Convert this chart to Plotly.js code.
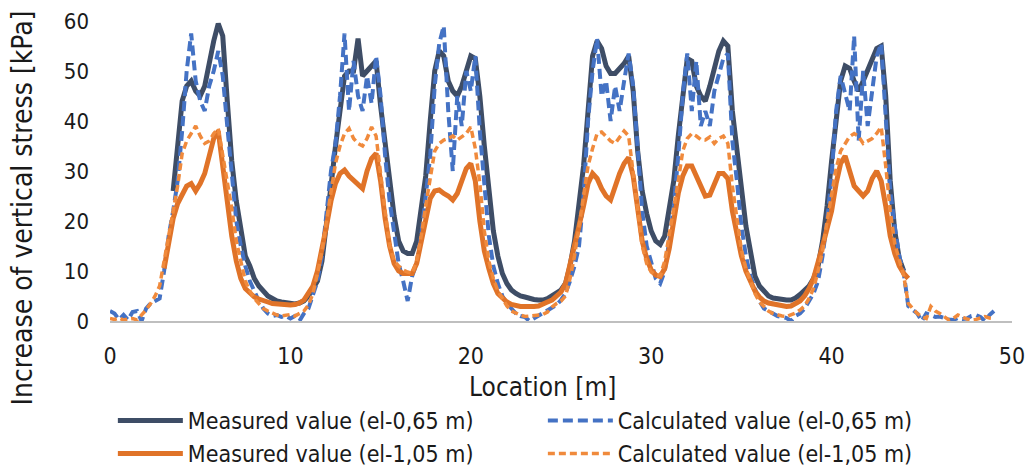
<!DOCTYPE html>
<html>
<head>
<meta charset="utf-8">
<script src="https://cdn.plot.ly/plotly-3.0.1.min.js"></script>
<style>
  html, body { margin: 0; padding: 0; background: #ffffff; }
  #chart { width: 1026px; height: 470px; }
</style>
</head>
<body>
<div id="chart"></div>
<script>
// Location along the profile [m]
const location_m = [
  0,0.25,0.5,0.75, 1,1.25,1.5,1.75, 2,2.25,2.5,2.75, 3,3.25,3.5,3.75, 4,4.25,4.5,4.75,
  5,5.25,5.5,5.75, 6,6.25,6.5,6.75, 7,7.25,7.5,7.75, 8,8.25,8.5,8.75, 9,9.25,9.5,9.75,
  10,10.25,10.5,10.75, 11,11.25,11.5,11.75, 12,12.25,12.5,12.75, 13,13.25,13.5,13.75, 14,14.25,14.5,14.75,
  15,15.25,15.5,15.75, 16,16.25,16.5,16.75, 17,17.25,17.5,17.75, 18,18.25,18.5,18.75, 19,19.25,19.5,19.75,
  20,20.25,20.5,20.75, 21,21.25,21.5,21.75, 22,22.25,22.5,22.75, 23,23.25,23.5,23.75, 24,24.25,24.5,24.75,
  25,25.25,25.5,25.75, 26,26.25,26.5,26.75, 27,27.25,27.5,27.75, 28,28.25,28.5,28.75, 29,29.25,29.5,29.75,
  30,30.25,30.5,30.75, 31,31.25,31.5,31.75, 32,32.25,32.5,32.75, 33,33.25,33.5,33.75, 34,34.25,34.5,34.75,
  35,35.25,35.5,35.75, 36,36.25,36.5,36.75, 37,37.25,37.5,37.75, 38,38.25,38.5,38.75, 39,39.25,39.5,39.75,
  40,40.25,40.5,40.75, 41,41.25,41.5,41.75, 42,42.25,42.5,42.75, 43,43.25,43.5,43.75, 44,44.25,44.5,44.75,
  45,45.25,45.5,45.75, 46,46.25,46.5,46.75, 47,47.25,47.5,47.75, 48,48.25,48.5,48.75, 49
];

// Measured value (el-0,65 m) [kPa]
const measured065 = [
  null,null,null,null, null,null,null,null, null,null,null,null, null,null,26,36, 44,47,48,46,
  45,47,52,56, 59.5,57,44,32, 24,18,13,11, 8.5,7,6,5, 4.5,4,3.8,3.6,
  3.5,3.4,3.6,4, 5,6.5,8,12, 19,27,35,42, 49,50,50,56.5, 49,50,51,52,
  43,35,28,21, 16,14,13.5,13.5, 16,22,29,40, 50,54,53,48, 46,45,47,50,
  53,52.5,45,35, 26,18,13,9.5, 7.5,6.2,5.5,5, 4.8,4.5,4.3,4.2, 4.2,4.5,5,5.5,
  6.2,7.5,11,16, 23,31,42,53, 56,54.5,51,49.5, 49.5,50.5,51.5,53, 46,34,26,21.5,
  18,16,15.3,17, 22,28,37,46, 52.5,52,47,45, 44,47,51,54, 56,55,42,34,
  25.5,19,14,9, 7,5.8,5,4.6, 4.4,4.2,4.2,4.2, 4.6,5.3,6,7, 8.5,11,16,23,
  32,41,48,51, 50.5,48,46,48, 50,52.5,54.5,55, 45,28,18,12.5, 10,null,null,null,
  null,null,null,null, null,null,null,null, null,null,null,null, null,null,null,null, null
];

// Calculated value (el-0,65 m) [kPa]
const calculated065 = [
  2,1.5,0.3,1.2, 0.2,1.8,2,0, 2.5,3.5,4,4.5, 10,17,22,28, 38,50,57.5,48,
  44,42,47,50, 54,49,39,29, 20,15,11,8, 6,4,2.5,1.5, 1,1.2,0.8,1,
  0.5,1,0,1.5, 2.5,5,8,13, 22,30,35.5,45, 57.5,42,52,45, 42,49,43.5,53,
  45,33,24,17, 11.5,8,4,9, 11.5,17,26,33, 47,55.5,59,42, 30,45,39,50,
  46,53,38,27, 17,11,7.5,5, 3.5,2.5,1.5,1, 0.8,0,0.5,1, 1.5,2,2.5,3.2,
  4.2,5.5,8,11, 15,25,40,50, 56.5,45,48,40, 47,42,48,53.5, 47,33,22,15,
  11.5,8.5,7.5,10, 16,23,33,45, 53.5,42,52,39, 42,39,46,49, 52.5,53.5,36,28,
  19,13,9,6.5, 4,2.5,2,1.5, 1,0.8,0.6,0, 1,1.5,2.5,4, 5.5,8,13,20,
  29,42,49,45.5, 42,57,36,50, 39,46,53,55.5, 40,26,19,13, 9.5,3,2.2,1.5,
  0,1.5,1.2,0.8, 0.9,0.5,0.3,0.2, 0.6,0.4,0.5,1, 1.2,0.8,0,1.2, 2
];

// Measured value (el-1,05 m) [kPa]
const measured105 = [
  null,null,null,null, null,null,null,null, null,null,null,null, 10.5,16,20.5,23.5, 25.5,27,27.5,26,
  27.5,29.5,33,36.5, 38,31,24,17, 12,8.5,6.5,5.5, 4.8,4.4,4,3.8, 3.5,3.4,3.3,3.2,
  3.2,3.3,3.6,4.2, 5.5,7,10,14, 19,24,27.5,29.5, 30.2,29,28.2,27.5, 26.5,30,32.5,33.5,
  28,20.5,15,11.5, 10,9.5,9.4,9.5, 11.5,16,21,24.5, 26,26.2,25.5,25, 24.2,25.5,28,30.5,
  31.5,28,20,14, 10.5,7.5,5.5,4.5, 3.8,3.3,3,2.9, 2.9,2.8,2.9,3, 3.3,3.8,4.2,5,
  5.8,7.5,11,15, 19,23,27.5,29.5, 28.5,26.5,25,24.2, 27,29.5,31.5,32.7, 29,22,16,12.5,
  10.2,9.2,8.9,10.5, 14.5,20,25.5,29, 31,31,29,27.5, 25,25.2,27.5,29.5, 29.5,28.5,22,17,
  13,10,8,6, 4.8,4,3.6,3.4, 3.2,3,2.9,3, 3.4,4,5,6.5, 8.5,11.5,15,18.5,
  22,27.5,31.5,33, 30,27,26,25, 26,28.5,30,28, 23,17,13.5,11, 9.5,8.5,null,null,
  null,null,null,null, null,null,null,null, null,null,null,null, null,null,null,null, null
];

// Calculated value (el-1,05 m) [kPa]
const calculated105 = [
  0.5,0.3,0.6,0.2, 0.4,0.5,0.2,1.2, 2.2,3.5,5,7, 12,17,22,27, 33.5,36,37.5,39,
  37,35.5,36,37.5, 38.5,33,28.5,22.5, 16,12,8,6, 4.5,3.5,2.5,2, 1.5,1.2,1,1.2,
  1.3,1,1.5,2, 3.2,5.5,9.5,14, 20,26,31.5,35, 37.5,38.5,36.5,35.5, 35,36.5,38.8,37,
  29,22,15,12, 11,10.2,9.8,9.5, 12,17,23,29, 34,35.5,36.2,36.5, 37,36.2,36.9,37.5,
  38.8,34.5,27.5,18, 12,8.5,6,4.5, 3,2,1.5,1.2, 0.9,1,1.1,1.2, 1.3,1.8,2.8,3.5,
  4,5,8.5,13, 19,26,31,34.5, 37.5,37.8,36.8,36, 35.5,36.8,38,37, 30,22,15,11.5,
  9.8,9.2,9,12, 17,22.5,28,34, 36.5,37.5,37,36.3, 36.2,36.8,35.5,36.5, 37,35.5,27,20,
  14.2,10.5,8,5.5, 3.8,2.8,2,1.5, 1.2,1,0.9,1.2, 1.6,2.2,3,4.5, 6.5,10,14,20,
  25,30.5,34,35.5, 36.9,37.5,36.9,35.5, 36,36.5,37.5,38.8, 31,22,15.5,12, 9,3.5,2.5,1.5,
  0.8,0.5,2.9,2, 1.5,0.8,0.2,0.5, 1.2,0.8,0.4,0.2, 0.3,0.6,0.9,0.6, 0.5
];

const seriesNames = [
  'Measured value (el-0,65 m)',
  'Calculated value (el-0,65 m)',
  'Measured value (el-1,05 m)',
  'Calculated value (el-1,05 m)'
];
const xTickVals = [0, 10, 20, 30, 40, 50];
const yTickVals = [0, 10, 20, 30, 40, 50, 60];

const FONT = '"DejaVu Sans Condensed", "Liberation Sans Narrow", "DejaVu Sans", sans-serif';

const traces = [
  { x: location_m, y: measured065, name: seriesNames[0], type: 'scatter', mode: 'lines',
    line: { color: '#3E4D66', width: 5 }, connectgaps: false },
  { x: location_m, y: calculated065, name: seriesNames[1], type: 'scatter', mode: 'lines',
    line: { color: '#4472C4', width: 4, dash: '10px,5px' }, connectgaps: false },
  { x: location_m, y: measured105, name: seriesNames[2], type: 'scatter', mode: 'lines',
    line: { color: '#E07328', width: 5 }, connectgaps: false },
  { x: location_m, y: calculated105, name: seriesNames[3], type: 'scatter', mode: 'lines',
    line: { color: '#F08A3C', width: 3.5, dash: '7px,4px' }, connectgaps: false }
];

const layout = {
  width: 1026, height: 470,
  margin: { l: 110, r: 14, t: 21, b: 149 },
  paper_bgcolor: '#ffffff', plot_bgcolor: '#ffffff',
  font: { family: FONT, color: '#1a1a1a', size: 22 },
  showlegend: true,
  legend: {
    orientation: 'h', xref: 'container', yref: 'container',
    x: 0.110, y: 0.151, xanchor: 'left', yanchor: 'top',
    entrywidth: 350, entrywidthmode: 'pixels',
    font: { family: FONT, size: 23, color: '#1a1a1a' },
    bgcolor: 'rgba(0,0,0,0)', traceorder: 'normal', itemwidth: 65
  },
  xaxis: {
    range: [0, 50], tickvals: xTickVals, ticktext: xTickVals.map(String),
    showgrid: false, zeroline: false, showline: true, linecolor: '#BFBFBF', linewidth: 1.5,
    ticks: '', ticklabelstandoff: 14, tickfont: { family: FONT, size: 23, color: '#1a1a1a' },
    fixedrange: true, automargin: false
  },
  yaxis: {
    range: [0, 60], tickvals: yTickVals, ticktext: yTickVals.map(String),
    showgrid: false, zeroline: false, showline: false,
    ticks: '', ticklabelstandoff: 20, tickfont: { family: FONT, size: 22, color: '#1a1a1a' },
    fixedrange: true, automargin: false
  },
  annotations: [
    { text: 'Location [m]', xref: 'paper', yref: 'paper', x: 0.479, y: -0.22,
      xanchor: 'center', yanchor: 'middle', showarrow: false,
      font: { family: FONT, size: 26, color: '#1a1a1a' } },
    { text: 'Increase of vertical stress [kPa]', xref: 'paper', yref: 'paper', x: -0.097, y: 0.377,
      xanchor: 'center', yanchor: 'middle', showarrow: false, textangle: -90,
      font: { family: FONT, size: 28, color: '#1a1a1a' } }
  ]
};

Plotly.newPlot('chart', traces, layout, { displayModeBar: false, staticPlot: true });
</script>
</body>
</html>
